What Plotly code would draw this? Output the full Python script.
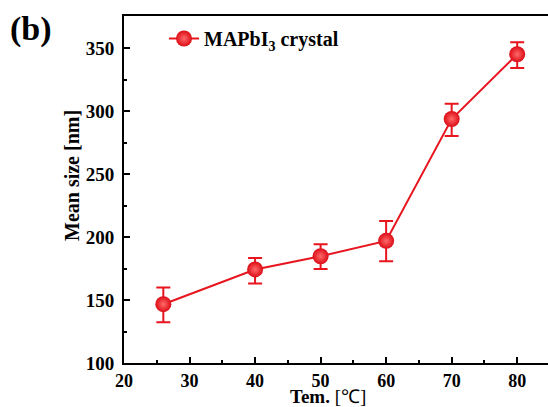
import plotly.graph_objects as go

temps = [26, 40, 50, 60, 70, 80]
mean_size = [146.7, 174.3, 184.8, 197.0, 293.8, 345.2]
err_plus = [13.3, 9.0, 9.6, 15.7, 12.2, 9.5]
err_minus = [14.3, 11.2, 10.1, 16.1, 13.5, 10.9]
series_name = "MAPbI<sub>3</sub> crystal"
x_ticks = [20, 30, 40, 50, 60, 70, 80]
y_ticks = [100, 150, 200, 250, 300, 350]

RED = "#e8151e"
FONT = "Liberation Serif, Times New Roman, serif"

fig = go.Figure()
fig.add_trace(go.Scatter(
    x=temps, y=mean_size, name=series_name, mode="lines+markers",
    line=dict(color=RED, width=2),
    marker=dict(size=16, color="#dc0c16",
                gradient=dict(type="radial", color="#ff6a6a"),
                line=dict(width=0)),
    error_y=dict(type="data", array=err_plus, arrayminus=err_minus,
                 color=RED, thickness=2, width=7),
))

axis_common = dict(
    showline=True, linecolor="black", linewidth=2,
    ticks="inside", ticklen=6, tickwidth=2, tickcolor="black",
    showgrid=False, zeroline=False, automargin=False,
)

fig.update_xaxes(
    range=[20, 84.7], tickvals=x_ticks, mirror=True,
    minor=dict(ticks="inside", ticklen=3, tickwidth=2, tickcolor="black", dtick=5),
    ticklabelstandoff=0,
    tickfont=dict(family=FONT, size=18, color="black", weight="bold"),
    **axis_common,
)
fig.update_yaxes(
    range=[100, 375.6], tickvals=y_ticks, mirror=False,
    minor=dict(ticks="inside", ticklen=3, tickwidth=2, tickcolor="black", dtick=25),
    ticklabelstandoff=4,
    tickfont=dict(family=FONT, size=19, color="black", weight="bold"),
    **axis_common,
)

pw, ph = 548 - 124, 407 - 16 - 44
def px(xp):
    return (xp - 124) / pw
def py(yp):
    return (407 - 44 - yp) / ph

fig.update_layout(
    width=548, height=407,
    margin=dict(l=124, r=0, t=16, b=44, autoexpand=False),
    paper_bgcolor="white", plot_bgcolor="white",
    showlegend=True,
    legend=dict(x=px(164), y=py(19), xanchor="left", yanchor="top",
                bgcolor="rgba(0,0,0,0)", borderwidth=0,
                font=dict(family=FONT, size=20, color="black", weight="bold"),
                itemwidth=30, tracegroupgap=0),
    annotations=[
        dict(text="<b>(b)</b>", x=px(8), y=py(29), xref="paper", yref="paper",
             showarrow=False, xanchor="left", yanchor="middle",
             font=dict(family=FONT, size=34, color="black")),
        dict(text="<b>Mean size [nm]</b>", textangle=-90, showarrow=False,
             xref="paper", yref="paper", x=px(72), y=py(176),
             xanchor="center", yanchor="middle",
             font=dict(family=FONT, size=20, color="black")),
        dict(text="<b>Tem.</b> [℃]", showarrow=False,
             xref="paper", yref="paper", x=px(328), y=py(396),
             xanchor="center", yanchor="middle",
             font=dict(family=FONT, size=19, color="black")),
    ],
)

fig.write_html(
    "out.html",
    config={"displayModeBar": False},
    post_script="document.body.style.margin='0';document.body.style.overflow='hidden';",
)
